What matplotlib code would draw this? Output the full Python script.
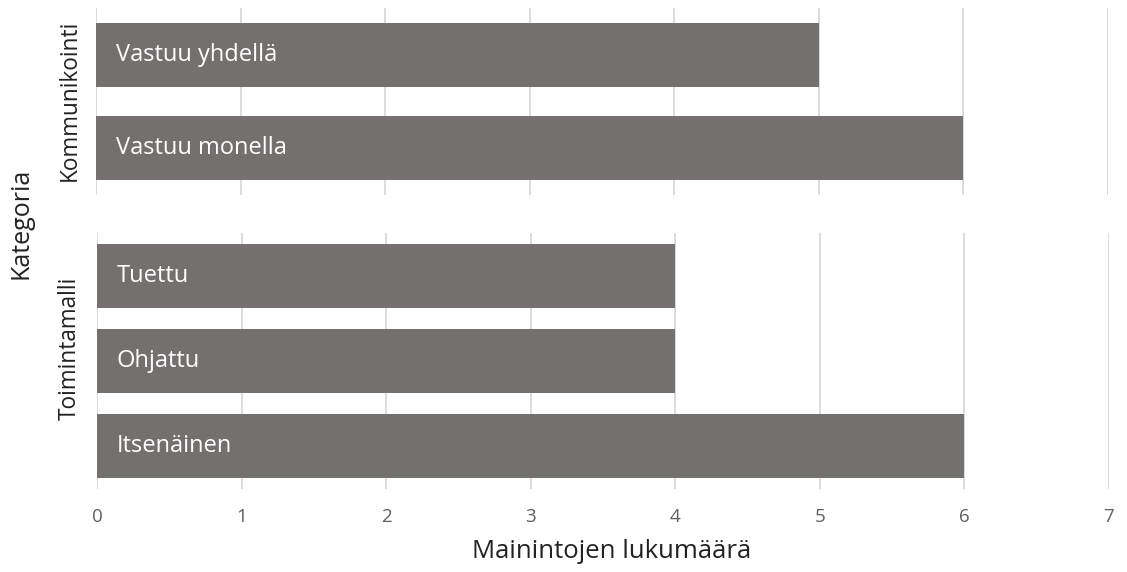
import matplotlib
matplotlib.use("Agg")
import matplotlib.pyplot as plt

plt.rcParams['font.family'] = ['Open Sans', 'DejaVu Sans']

# Data
top_group = "Kommunikointi"
top_categories = ["Vastuu yhdellä", "Vastuu monella"]
top_values = [5, 6]

bottom_group = "Toimintamalli"
bottom_categories = ["Tuettu", "Ohjattu", "Itsenäinen"]
bottom_values = [4, 4, 6]

x_ticks = [0, 1, 2, 3, 4, 5, 6, 7]
x_label = "Mainintojen lukumäärä"
y_label = "Kategoria"

BAR = "#757070"
GRID = "#d9d9d9"
W, H = 1127, 572

fig = plt.figure(figsize=(W / 100, H / 100), dpi=100)

def axes_px(left, top, right, bottom):
    return fig.add_axes([left / W, 1 - bottom / H, (right - left) / W, (bottom - top) / H])

ax1 = axes_px(96, 8, 1108, 195)
ax2 = axes_px(97, 233, 1109, 489)

def draw(ax, cats, vals, height, show_x):
    ys = list(range(len(cats)))
    ax.barh(ys, vals, height=height, color=BAR, zorder=2)
    for y, c in zip(ys, cats):
        ax.annotate(c, xy=(0, y), xytext=(14.4, 0), textcoords="offset points",
                    ha="left", va="center", color="white", fontsize=17)
    ax.set_ylim(len(cats) - 0.5, -0.5)
    ax.set_xlim(0, 7)
    ax.set_xticks(x_ticks)
    ax.set_yticks([])
    ax.grid(axis="x", color=GRID, linewidth=1.3, zorder=0)
    for s in ax.spines.values():
        s.set_visible(False)
    ax.tick_params(axis="x", length=0, colors="#606060", labelsize=13.5, pad=14)
    if not show_x:
        ax.set_xticklabels([])

draw(ax1, top_categories, top_values, 0.68, False)
draw(ax2, bottom_categories, bottom_values, 0.75, True)

fig.text(70 / W, 1 - 100 / H, top_group, rotation=90, ha="center", va="center",
         fontsize=16.3, color="#222222")
fig.text(70 / W, 1 - 348 / H, bottom_group, rotation=90, ha="center", va="center",
         fontsize=16.3, color="#222222")
fig.text(612 / W, 1 - 551 / H, x_label, ha="center", va="center",
         fontsize=18.5, color="#222222")
fig.text(21 / W, 1 - 223 / H, y_label, rotation=90, ha="center", va="center",
         fontsize=18, color="#222222")

fig.savefig("out.png", dpi=100, facecolor="white")
